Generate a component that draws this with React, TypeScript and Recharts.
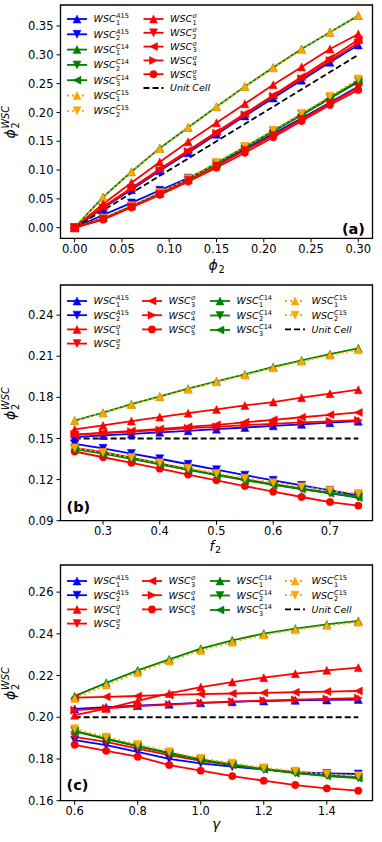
import React from 'react';
import { LineChart, Line, XAxis, YAxis, ReferenceArea } from 'recharts';

const FONT = '"DejaVu Sans", sans-serif';

// ---------- Panel (a): phi_2 ----------
const aX = [0, 0.03, 0.06, 0.09, 0.12, 0.15, 0.18, 0.21, 0.24, 0.27, 0.3];
const aA15_1 = [0, 0.034, 0.066, 0.099, 0.13, 0.162, 0.194, 0.225, 0.256, 0.287, 0.317];
const aA15_2 = [0, 0.022, 0.043, 0.065, 0.086, 0.11, 0.136, 0.163, 0.19, 0.217, 0.245];
const aC14_1 = [0, 0.053, 0.097, 0.138, 0.174, 0.21, 0.245, 0.278, 0.31, 0.339, 0.368];
const aC14_2 = [0, 0.016, 0.037, 0.06, 0.084, 0.112, 0.14, 0.168, 0.197, 0.226, 0.255];
const aC14_3 = [0, 0.016, 0.037, 0.059, 0.083, 0.111, 0.139, 0.167, 0.195, 0.224, 0.253];
const aC15_1 = [0, 0.053, 0.097, 0.137, 0.174, 0.21, 0.245, 0.277, 0.309, 0.339, 0.368];
const aC15_2 = [0, 0.017, 0.038, 0.061, 0.085, 0.113, 0.141, 0.169, 0.198, 0.228, 0.258];
const aS1 = [0, 0.041, 0.078, 0.114, 0.149, 0.182, 0.215, 0.248, 0.279, 0.31, 0.336];
const aS2 = [0, 0.015, 0.036, 0.058, 0.082, 0.107, 0.134, 0.16, 0.188, 0.216, 0.243];
const aS3 = [0, 0.036, 0.069, 0.102, 0.134, 0.166, 0.198, 0.23, 0.262, 0.294, 0.326];
const aS4 = [0, 0.035, 0.068, 0.1, 0.132, 0.164, 0.196, 0.228, 0.259, 0.29, 0.321];
const aS5 = [0, 0.014, 0.035, 0.057, 0.08, 0.104, 0.13, 0.157, 0.185, 0.213, 0.239];
const aUC = [0, 0.03, 0.06, 0.09, 0.12, 0.15, 0.18, 0.21, 0.24, 0.27, 0.3];
const aXTicks = [0, 0.05, 0.1, 0.15, 0.2, 0.25, 0.3];
const aXLabels = ['0.00', '0.05', '0.10', '0.15', '0.20', '0.25', '0.30'];
const aYTicks = [0, 0.05, 0.1, 0.15, 0.2, 0.25, 0.3, 0.35];
const aYLabels = ['0.00', '0.05', '0.10', '0.15', '0.20', '0.25', '0.30', '0.35'];

// ---------- Panel (b): f_2 ----------
const bX = [0.25, 0.3, 0.35, 0.4, 0.45, 0.5, 0.55, 0.6, 0.65, 0.7, 0.75];
const bA15_1 = [0.151, 0.1522, 0.1533, 0.1545, 0.1556, 0.1568, 0.158, 0.1592, 0.1603, 0.1615, 0.1626];
const bA15_2 = [0.146, 0.1428, 0.139, 0.1352, 0.1312, 0.1272, 0.1232, 0.1195, 0.1158, 0.1122, 0.1085];
const bS1 = [0.1566, 0.1595, 0.1627, 0.1656, 0.1685, 0.1712, 0.1741, 0.1766, 0.1798, 0.1827, 0.1856];
const bS2 = [0.1432, 0.14, 0.136, 0.1318, 0.1277, 0.1237, 0.12, 0.1166, 0.1133, 0.1102, 0.1072];
const bS3 = [0.1525, 0.154, 0.1555, 0.157, 0.1585, 0.16, 0.1618, 0.1636, 0.1655, 0.1673, 0.169];
const bS4 = [0.153, 0.154, 0.155, 0.1562, 0.1575, 0.1585, 0.1597, 0.1607, 0.1617, 0.1625, 0.1633];
const bS5 = [0.1405, 0.1363, 0.1322, 0.128, 0.1237, 0.1195, 0.1153, 0.1112, 0.1073, 0.1036, 0.101];
const bC14_1 = [0.163, 0.1688, 0.175, 0.1807, 0.1863, 0.1917, 0.1968, 0.2022, 0.207, 0.2115, 0.2158];
const bC14_2 = [0.1424, 0.1393, 0.1356, 0.1315, 0.1275, 0.1236, 0.12, 0.1165, 0.1134, 0.1104, 0.1073];
const bC14_3 = [0.1422, 0.139, 0.1352, 0.1312, 0.1271, 0.1232, 0.1196, 0.1161, 0.113, 0.11, 0.1068];
const bC15_1 = [0.163, 0.1686, 0.1747, 0.1804, 0.1859, 0.1913, 0.1963, 0.2015, 0.2063, 0.2107, 0.2148];
const bC15_2 = [0.143, 0.1398, 0.1361, 0.1322, 0.1283, 0.1245, 0.121, 0.1177, 0.1148, 0.1121, 0.1098];
const bUC = [0.15, 0.15, 0.15, 0.15, 0.15, 0.15, 0.15, 0.15, 0.15, 0.15, 0.15];
const bXTicks = [0.3, 0.4, 0.5, 0.6, 0.7];
const bXLabels = ['0.3', '0.4', '0.5', '0.6', '0.7'];
const bYTicks = [0.09, 0.12, 0.15, 0.18, 0.21, 0.24];
const bYLabels = ['0.09', '0.12', '0.15', '0.18', '0.21', '0.24'];

// ---------- Panel (c): gamma ----------
const cX = [0.6, 0.7, 0.8, 0.9, 1.0, 1.1, 1.2, 1.3, 1.4, 1.5];
const cA15_1 = [0.204, 0.2048, 0.2056, 0.2063, 0.2069, 0.2074, 0.2078, 0.2081, 0.2083, 0.2085];
const cA15_2 = [0.189, 0.1866, 0.1834, 0.18, 0.1779, 0.1763, 0.175, 0.1737, 0.1731, 0.1728];
const cS1 = [0.201, 0.2042, 0.2078, 0.2114, 0.2145, 0.2169, 0.219, 0.2209, 0.2225, 0.2238];
const cS2 = [0.1906, 0.1882, 0.185, 0.1818, 0.1791, 0.1771, 0.1752, 0.1736, 0.1723, 0.1712];
const cS3 = [0.2094, 0.2098, 0.2102, 0.2107, 0.2111, 0.2114, 0.2117, 0.212, 0.2123, 0.2126];
const cS4 = [0.2034, 0.2043, 0.2053, 0.2061, 0.2069, 0.2075, 0.208, 0.2084, 0.2088, 0.2092];
const cS5 = [0.1868, 0.1839, 0.1811, 0.1771, 0.1744, 0.1718, 0.1696, 0.1675, 0.1659, 0.1648];
const cC14_1 = [0.2101, 0.2165, 0.2225, 0.2278, 0.2329, 0.2369, 0.2401, 0.2425, 0.2445, 0.2462];
const cC14_2 = [0.1935, 0.1898, 0.1863, 0.183, 0.1798, 0.1774, 0.1752, 0.1734, 0.172, 0.171];
const cC14_3 = [0.1932, 0.1895, 0.186, 0.1827, 0.1795, 0.1771, 0.175, 0.1732, 0.1718, 0.1708];
const cC15_1 = [0.209, 0.2155, 0.2215, 0.227, 0.232, 0.236, 0.2395, 0.242, 0.244, 0.2456];
const cC15_2 = [0.1945, 0.1905, 0.187, 0.1835, 0.1803, 0.178, 0.1758, 0.1742, 0.1728, 0.172];
const cUC = [0.2, 0.2, 0.2, 0.2, 0.2, 0.2, 0.2, 0.2, 0.2, 0.2];
const cXTicks = [0.6, 0.8, 1.0, 1.2, 1.4];
const cXLabels = ['0.6', '0.8', '1.0', '1.2', '1.4'];
const cYTicks = [0.16, 0.18, 0.2, 0.22, 0.24, 0.26];
const cYLabels = ['0.16', '0.18', '0.20', '0.22', '0.24', '0.26'];

// ---------- styles ----------
type Shape = 'up' | 'down' | 'left' | 'right' | 'circle' | 'none';
interface Sty { color: string; shape: Shape; dash?: string; sup?: [string, string]; sub?: string; text?: string }
const BLUE = '#0000ff', GREEN = '#008000', ORANGE = '#ffa500', RED = '#ff0000';
const STY: Record<string, Sty> = {
  A15_1: { color: BLUE, shape: 'up', sup: ['A', '15'], sub: '1' },
  A15_2: { color: BLUE, shape: 'down', sup: ['A', '15'], sub: '2' },
  C14_1: { color: GREEN, shape: 'up', sup: ['C', '14'], sub: '1' },
  C14_2: { color: GREEN, shape: 'down', sup: ['C', '14'], sub: '2' },
  C14_3: { color: GREEN, shape: 'left', sup: ['C', '14'], sub: '3' },
  C15_1: { color: ORANGE, shape: 'up', dash: '2 3', sup: ['C', '15'], sub: '1' },
  C15_2: { color: ORANGE, shape: 'down', dash: '2 3', sup: ['C', '15'], sub: '2' },
  S1: { color: RED, shape: 'up', sup: ['σ', ''], sub: '1' },
  S2: { color: RED, shape: 'down', sup: ['σ', ''], sub: '2' },
  S3: { color: RED, shape: 'left', sup: ['σ', ''], sub: '3' },
  S4: { color: RED, shape: 'right', sup: ['σ', ''], sub: '4' },
  S5: { color: RED, shape: 'circle', sup: ['σ', ''], sub: '5' },
  UC: { color: '#000000', shape: 'none', dash: '6 3', text: 'Unit Cell' },
};

function Marker({ shape, cx, cy, color }: { shape: Shape; cx: number; cy: number; color: string }) {
  const r = 4;
  if (shape === 'none' || cx == null || cy == null) return null;
  if (shape === 'circle') return <circle cx={cx} cy={cy} r={3.7} fill={color} stroke={color} strokeWidth={0.5} />;
  let pts: number[][] = [];
  if (shape === 'up') pts = [[cx, cy - r], [cx - r, cy + r], [cx + r, cy + r]];
  if (shape === 'down') pts = [[cx, cy + r], [cx - r, cy - r], [cx + r, cy - r]];
  if (shape === 'left') pts = [[cx - r, cy], [cx + r, cy - r], [cx + r, cy + r]];
  if (shape === 'right') pts = [[cx + r, cy], [cx - r, cy - r], [cx - r, cy + r]];
  return <polygon points={pts.map((p) => p.join(',')).join(' ')} fill={color} stroke={color} strokeWidth={0.5} strokeLinejoin="miter" />;
}

function buildRows(x: number[], series: Record<string, number[]>) {
  return x.map((xv, i) => {
    const row: Record<string, number> = { x: xv };
    Object.keys(series).forEach((k) => { row[k] = series[k][i]; });
    return row;
  });
}

const aData = buildRows(aX, { A15_1: aA15_1, A15_2: aA15_2, C14_1: aC14_1, C14_2: aC14_2, C14_3: aC14_3, C15_1: aC15_1, C15_2: aC15_2, S1: aS1, S2: aS2, S3: aS3, S4: aS4, S5: aS5, UC: aUC });
const bData = buildRows(bX, { A15_1: bA15_1, A15_2: bA15_2, S1: bS1, S2: bS2, S3: bS3, S4: bS4, S5: bS5, C14_1: bC14_1, C14_2: bC14_2, C14_3: bC14_3, C15_1: bC15_1, C15_2: bC15_2, UC: bUC });
const cData = buildRows(cX, { A15_1: cA15_1, A15_2: cA15_2, S1: cS1, S2: cS2, S3: cS3, S4: cS4, S5: cS5, C14_1: cC14_1, C14_2: cC14_2, C14_3: cC14_3, C15_1: cC15_1, C15_2: cC15_2, UC: cUC });

const aOrder = ['A15_1', 'A15_2', 'C14_1', 'C14_2', 'C14_3', 'C15_1', 'C15_2', 'S1', 'S2', 'S3', 'S4', 'S5', 'UC'];
const bOrder = ['A15_1', 'A15_2', 'S1', 'S2', 'S3', 'S4', 'S5', 'C14_1', 'C14_2', 'C14_3', 'C15_1', 'C15_2', 'UC'];

function lookup(ticks: number[], labels: string[]) {
  return (v: number) => {
    const i = ticks.findIndex((t) => Math.abs(t - v) < 1e-9);
    return i >= 0 ? labels[i] : '';
  };
}

interface PanelProps {
  top: number; height: number; plotBottom: number; data: any[]; order: string[];
  xDomain: [number, number]; yDomain: [number, number];
  xTicks: number[]; xLabels: string[]; yTicks: number[]; yLabels: string[]; xTickMargin: number;
}

function Panel(p: PanelProps) {
  const tickStyle = { fill: '#000', fontSize: 11.5, fontFamily: FONT };
  return (
    <div style={{ position: 'absolute', left: 0, top: p.top }}>
      <LineChart width={382} height={p.height} data={p.data} margin={{ top: 5, right: 9.5, bottom: 0, left: 0 }}>
        <XAxis dataKey="x" type="number" domain={p.xDomain} ticks={p.xTicks} interval={0} allowDataOverflow
          tickFormatter={lookup(p.xTicks, p.xLabels)} height={p.height - p.plotBottom}
          axisLine={false} tickLine={{ stroke: '#000', strokeWidth: 1 }} tickSize={4} tickMargin={p.xTickMargin} tick={tickStyle} />
        <YAxis type="number" domain={p.yDomain} ticks={p.yTicks} interval={0} allowDataOverflow
          tickFormatter={lookup(p.yTicks, p.yLabels)} width={60.5}
          axisLine={false} tickLine={{ stroke: '#000', strokeWidth: 1 }} tickSize={4} tickMargin={3} tick={tickStyle} />
        <ReferenceArea x1={p.xDomain[0]} x2={p.xDomain[1]} y1={p.yDomain[0]} y2={p.yDomain[1]}
          fill="none" fillOpacity={0} stroke="#000" strokeWidth={1.3} ifOverflow="visible" />
        {p.order.map((k) => {
          const s = STY[k];
          return (
            <Line key={k} dataKey={k} type="linear" stroke={s.color} strokeWidth={1.8}
              strokeDasharray={s.dash} isAnimationActive={false} activeDot={false}
              dot={(d: any) => <Marker key={`${k}-${d.index}`} shape={s.shape} cx={d.cx} cy={d.cy} color={s.color} />} />
          );
        })}
      </LineChart>
    </div>
  );
}

function EntryLabel({ x, y, s }: { x: number; y: number; s: Sty }) {
  const fs = 9.5;
  if (s.text) {
    return <text x={x} y={y} fontFamily={FONT} fontSize={fs} fontStyle="italic" fill="#000">{s.text}</text>;
  }
  const sx = x + fs * 2.34 + 0.3;
  return (
    <g fontFamily={FONT} fill="#000">
      <text x={x} y={y} fontSize={fs} fontStyle="italic">WSC</text>
      <text x={sx} y={y - 4} fontSize={6.6}>
        <tspan fontStyle="italic">{s.sup![0]}</tspan>
        <tspan>{s.sup![1]}</tspan>
      </text>
      <text x={sx} y={y + 2.4} fontSize={6.6}>{s.sub}</text>
    </g>
  );
}

function LegendEntry({ x, y, k }: { x: number; y: number; k: string }) {
  const s = STY[k];
  return (
    <g>
      <line x1={x} y1={y} x2={x + 20} y2={y} stroke={s.color} strokeWidth={1.8} strokeDasharray={s.dash} />
      <Marker shape={s.shape} cx={x + 10} cy={y} color={s.color} />
      <EntryLabel x={x + 26.5} y={y + 3.4} s={s} />
    </g>
  );
}

interface Col { x: number; y0: number; dy: number; keys: string[] }
function LegendBlock({ cols }: { cols: Col[] }) {
  return (
    <g>
      {cols.map((c, ci) => c.keys.map((k, ri) => <LegendEntry key={`${ci}-${k}`} x={c.x} y={c.y0 + ri * c.dy} k={k} />))}
    </g>
  );
}

function YTitle({ cx, cy }: { cx: number; cy: number }) {
  return (
    <g transform={`translate(${cx},${cy}) rotate(-90)`} fontFamily={FONT} fill="#000">
      <text x={-17} y={0} fontSize={14} fontStyle="italic">ϕ</text>
      <text x={-7} y={-6.5} fontSize={9.8} fontStyle="italic">WSC</text>
      <text x={-7} y={3.5} fontSize={9.8}>2</text>
    </g>
  );
}

function bcLegend(dyTop: number): Col[] {
  return [
    { x: 67, y0: 301 + dyTop, dy: 14.2, keys: ['A15_1', 'A15_2', 'S1', 'S2'] },
    { x: 142, y0: 301 + dyTop, dy: 14.2, keys: ['S3', 'S4', 'S5'] },
    { x: 210, y0: 301 + dyTop, dy: 14.5, keys: ['C14_1', 'C14_2', 'C14_3'] },
    { x: 285, y0: 301 + dyTop, dy: 14.2, keys: ['C15_1', 'C15_2', 'UC'] },
  ];
}

export default function App() {
  return (
    <div style={{ position: 'absolute', left: 0, top: 0, width: 382, height: 842, background: '#fff' }}>
      <Panel top={0} height={280} plotBottom={238.3} data={aData} order={aOrder}
        xDomain={[-0.015, 0.315]} yDomain={[-0.0184, 0.3864]} xTickMargin={3}
        xTicks={aXTicks} xLabels={aXLabels} yTicks={aYTicks} yLabels={aYLabels} />
      <Panel top={280} height={280} plotBottom={240.7} data={bData} order={bOrder}
        xDomain={[0.225, 0.775]} yDomain={[0.09, 0.262]} xTickMargin={2}
        xTicks={bXTicks} xLabels={bXLabels} yTicks={bYTicks} yLabels={bYLabels} />
      <Panel top={560} height={282} plotBottom={240.7} data={cData} order={bOrder}
        xDomain={[0.555, 1.545]} yDomain={[0.16, 0.273]} xTickMargin={2}
        xTicks={cXTicks} xLabels={cXLabels} yTicks={cYTicks} yLabels={cYLabels} />
      <svg width={382} height={842} style={{ position: 'absolute', left: 0, top: 0, pointerEvents: 'none' }}>
        <LegendBlock cols={[
          { x: 67, y0: 19, dy: 15.3, keys: ['A15_1', 'A15_2', 'C14_1', 'C14_2', 'C14_3', 'C15_1', 'C15_2'] },
          { x: 143.5, y0: 19, dy: 13.8, keys: ['S1', 'S2', 'S3', 'S4', 'S5', 'UC'] },
        ]} />
        <LegendBlock cols={bcLegend(0)} />
        <LegendBlock cols={bcLegend(280)} />
        <g fontFamily={FONT} fontWeight="bold" fontSize={14.5} fill="#000">
          <text x={365} y={234} textAnchor="end">(a)</text>
          <text x={66.5} y={512}>(b)</text>
          <text x={66.5} y={789.5}>(c)</text>
        </g>
        <g fontFamily={FONT} fill="#000">
          <text x={208.5} y={270} fontSize={14} fontStyle="italic">ϕ</text>
          <text x={218.5} y={273} fontSize={9.8}>2</text>
          <text x={209.5} y={550.5} fontSize={13.5} fontStyle="italic">f</text>
          <text x={215} y={553} fontSize={9.5}>2</text>
          <text x={212} y={829} fontSize={14} fontStyle="italic">γ</text>
        </g>
        <YTitle cx={15} cy={121.6} />
        <YTitle cx={15} cy={403} />
        <YTitle cx={15} cy={683} />
      </svg>
    </div>
  );
}
